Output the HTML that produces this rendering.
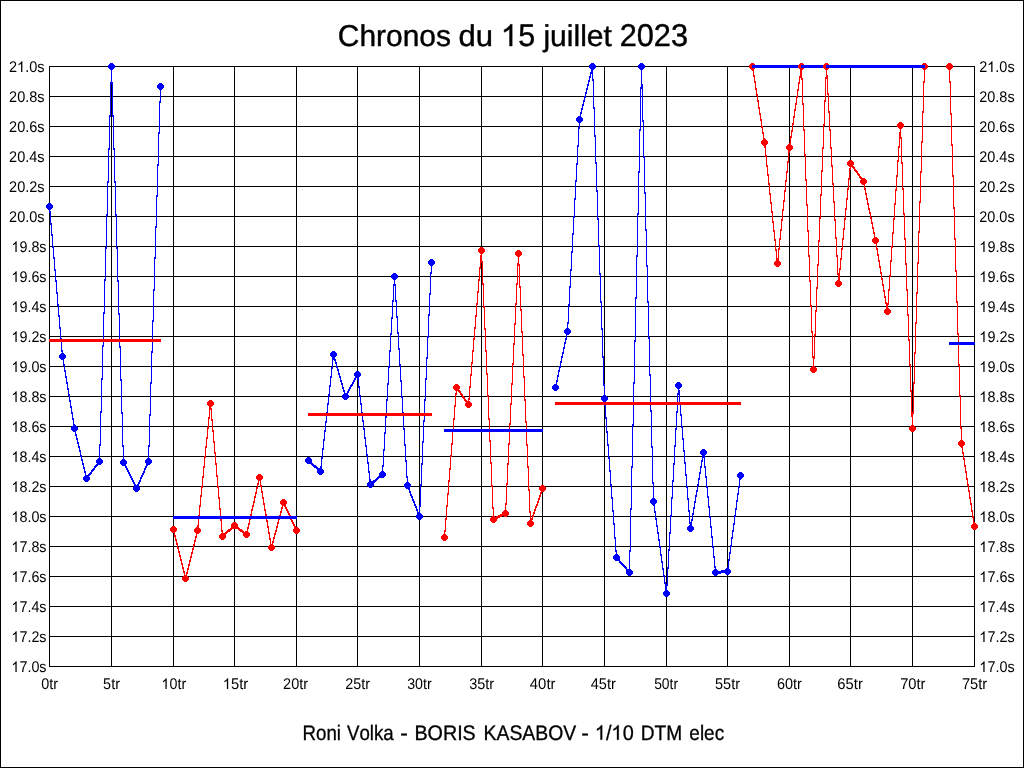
<!DOCTYPE html><html><head><meta charset="utf-8"><style>
html{background:#fff}body{margin:0;padding:0;background:transparent;width:1024px;height:768px;overflow:hidden}
svg{display:block}#w{will-change:transform;width:1024px;height:768px}
text{font-family:"Liberation Sans",sans-serif;fill:#000;text-rendering:geometricPrecision;font-kerning:none}
.l{font-size:15.5px}
</style></head><body>
<div id="w"><svg width="1024" height="768" viewBox="0 0 1024 768" shape-rendering="crispEdges">
<path d="M0 0h1024v1H0zM0 767h1024v1H0zM0 0h1v768H0zM1023 0h1v768h-1zM49 66h1v601h-1zM111 66h1v601h-1zM173 66h1v601h-1zM234 66h1v601h-1zM296 66h1v601h-1zM357 66h1v601h-1zM419 66h1v601h-1zM481 66h1v601h-1zM542 66h1v601h-1zM604 66h1v601h-1zM666 66h1v601h-1zM727 66h1v601h-1zM789 66h1v601h-1zM850 66h1v601h-1zM912 66h1v601h-1zM974 66h1v601h-1zM49 66h926v1H49zM49 96h926v1H49zM49 126h926v1H49zM49 156h926v1H49zM49 186h926v1H49zM49 216h926v1H49zM49 246h926v1H49zM49 276h926v1H49zM49 306h926v1H49zM49 336h926v1H49zM49 366h926v1H49zM49 396h926v1H49zM49 426h926v1H49zM49 456h926v1H49zM49 486h926v1H49zM49 516h926v1H49zM49 546h926v1H49zM49 576h926v1H49zM49 606h926v1H49zM49 636h926v1H49zM49 666h926v1H49z"/>
<path fill="#0000ff" d="M49 205h1v8h-1zM50 211h1v14h-1zM51 223h1v13h-1zM52 234h1v14h-1zM53 246h1v13h-1zM54 257h1v14h-1zM55 269h1v13h-1zM56 280h1v14h-1zM57 292h1v14h-1zM58 304h1v13h-1zM59 315h1v14h-1zM60 327h1v13h-1zM61 338h1v14h-1zM62 350h1v8h-1zM48 203H51V204H52V205H53V208H52V209H51V210H48V209H47V208H46V205H47V204H48Z"/>
<path fill="#ff0000" d="M49 339H63v3H49z"/>
<path fill="#0000ff" d="M62 355h1v5h-1zM63 358h1v8h-1zM64 364h1v8h-1zM65 370h1v8h-1zM66 376h1v8h-1zM67 382h1v8h-1zM68 388h1v8h-1zM69 394h1v8h-1zM70 400h1v8h-1zM71 406h1v8h-1zM72 412h1v8h-1zM73 418h1v8h-1zM74 424h1v6h-1zM61 353H64V354H65V355H66V358H65V359H64V360H61V359H60V358H59V355H60V354H61Z"/>
<path fill="#ff0000" d="M62 339H75v3H62z"/>
<path fill="#0000ff" d="M74 427h1v5h-1zM75 430h1v6h-1zM76 434h1v6h-1zM77 438h1v6h-1zM78 442h1v6h-1zM79 446h1v6h-1zM80 450h1v7h-1zM81 455h1v6h-1zM82 459h1v6h-1zM83 463h1v6h-1zM84 467h1v6h-1zM85 471h1v6h-1zM86 475h1v5h-1zM73 425H76V426H77V427H78V430H77V431H76V432H73V431H72V430H71V427H72V426H73Z"/>
<path fill="#ff0000" d="M74 339H87v3H74z"/>
<path fill="#0000ff" d="M86 477h1v3h-1zM87 476h1v3h-1zM88 474h1v4h-1zM89 473h1v3h-1zM90 472h1v3h-1zM91 470h1v4h-1zM92 469h1v3h-1zM93 468h1v3h-1zM94 466h1v4h-1zM95 465h1v3h-1zM96 464h1v3h-1zM97 462h1v4h-1zM98 461h1v3h-1zM99 460h1v3h-1zM85 475H88V476H89V477H90V480H89V481H88V482H85V481H84V480H83V477H84V476H85Z"/>
<path fill="#ff0000" d="M86 339H100v3H86z"/>
<path fill="#0000ff" d="M99 444h1v19h-1zM100 411h1v35h-1zM101 378h1v35h-1zM102 345h1v35h-1zM103 312h1v35h-1zM104 279h1v35h-1zM105 247h1v34h-1zM106 214h1v35h-1zM107 181h1v35h-1zM108 148h1v35h-1zM109 115h1v35h-1zM110 82h1v35h-1zM111 65h1v19h-1zM98 458H101V459H102V460H103V463H102V464H101V465H98V464H97V463H96V460H97V459H98Z"/>
<path fill="#ff0000" d="M99 339H112v3H99z"/>
<path fill="#0000ff" d="M111 65h1v19h-1zM112 82h1v35h-1zM113 115h1v35h-1zM114 148h1v35h-1zM115 181h1v35h-1zM116 214h1v35h-1zM117 247h1v35h-1zM118 280h1v35h-1zM119 313h1v35h-1zM120 346h1v35h-1zM121 379h1v35h-1zM122 412h1v35h-1zM123 445h1v19h-1zM110 63H113V64H114V65H115V68H114V69H113V70H110V69H109V68H108V65H109V64H110Z"/>
<path fill="#ff0000" d="M111 339H124v3H111z"/>
<path fill="#0000ff" d="M123 461h1v3h-1zM124 462h1v4h-1zM125 464h1v4h-1zM126 466h1v4h-1zM127 468h1v4h-1zM128 470h1v4h-1zM129 472h1v4h-1zM130 474h1v4h-1zM131 476h1v4h-1zM132 478h1v4h-1zM133 480h1v4h-1zM134 482h1v4h-1zM135 484h1v4h-1zM136 486h1v4h-1zM122 459H125V460H126V461H127V464H126V465H125V466H122V465H121V464H120V461H121V460H122Z"/>
<path fill="#ff0000" d="M123 339H137v3H123z"/>
<path fill="#0000ff" d="M136 486h1v4h-1zM137 484h1v4h-1zM138 482h1v4h-1zM139 480h1v4h-1zM140 477h1v5h-1zM141 475h1v4h-1zM142 473h1v4h-1zM143 471h1v4h-1zM144 468h1v5h-1zM145 466h1v4h-1zM146 464h1v4h-1zM147 462h1v4h-1zM148 460h1v4h-1zM135 485H138V486H139V487H140V490H139V491H138V492H135V491H134V490H133V487H134V486H135Z"/>
<path fill="#ff0000" d="M136 339H149v3H136z"/>
<path fill="#0000ff" d="M148 445h1v18h-1zM149 414h1v33h-1zM150 382h1v34h-1zM151 351h1v33h-1zM152 320h1v33h-1zM153 289h1v33h-1zM154 257h1v34h-1zM155 226h1v33h-1zM156 195h1v33h-1zM157 164h1v33h-1zM158 132h1v34h-1zM159 101h1v33h-1zM160 85h1v18h-1zM147 458H150V459H151V460H152V463H151V464H150V465H147V464H146V463H145V460H146V459H147Z"/>
<path fill="#ff0000" d="M148 339H161v3H148z"/>
<path fill="#0000ff" d="M159 83H162V84H163V85H164V88H163V89H162V90H159V89H158V88H157V85H158V84H159Z"/>
<path fill="#ff0000" d="M148 339H161v3H148z"/>
<path fill="#ff0000" d="M173 528h1v5h-1zM174 531h1v6h-1zM175 535h1v6h-1zM176 539h1v6h-1zM177 543h1v6h-1zM178 547h1v6h-1zM179 551h1v6h-1zM180 555h1v6h-1zM181 559h1v6h-1zM182 563h1v6h-1zM183 567h1v6h-1zM184 571h1v6h-1zM185 575h1v5h-1zM172 526H175V527H176V528H177V531H176V532H175V533H172V532H171V531H170V528H171V527H172Z"/>
<path fill="#0000ff" d="M173 516H186v3H173z"/>
<path fill="#ff0000" d="M185 576h1v4h-1zM186 572h1v6h-1zM187 568h1v6h-1zM188 564h1v6h-1zM189 560h1v6h-1zM190 556h1v6h-1zM191 552h1v6h-1zM192 548h1v6h-1zM193 544h1v6h-1zM194 540h1v6h-1zM195 536h1v6h-1zM196 532h1v6h-1zM197 529h1v5h-1zM184 575H187V576H188V577H189V580H188V581H187V582H184V581H183V580H182V577H183V576H184Z"/>
<path fill="#0000ff" d="M185 516H198v3H185z"/>
<path fill="#ff0000" d="M197 525h1v7h-1zM198 515h1v12h-1zM199 505h1v12h-1zM200 495h1v12h-1zM201 486h1v11h-1zM202 476h1v12h-1zM203 466h1v12h-1zM204 456h1v12h-1zM205 446h1v12h-1zM206 437h1v11h-1zM207 427h1v12h-1zM208 417h1v12h-1zM209 407h1v12h-1zM210 402h1v7h-1zM196 527H199V528H200V529H201V532H200V533H199V534H196V533H195V532H194V529H195V528H196Z"/>
<path fill="#0000ff" d="M197 516H211v3H197z"/>
<path fill="#ff0000" d="M210 402h1v8h-1zM211 408h1v13h-1zM212 419h1v13h-1zM213 430h1v13h-1zM214 441h1v13h-1zM215 452h1v13h-1zM216 463h1v14h-1zM217 475h1v13h-1zM218 486h1v13h-1zM219 497h1v13h-1zM220 508h1v13h-1zM221 519h1v13h-1zM222 530h1v8h-1zM209 400H212V401H213V402H214V405H213V406H212V407H209V406H208V405H207V402H208V401H209Z"/>
<path fill="#0000ff" d="M210 516H223v3H210z"/>
<path fill="#ff0000" d="M222 535h1v3h-1zM223 534h1v3h-1zM224 533h1v3h-1zM225 532h1v3h-1zM226 531h1v3h-1zM227 530h1v3h-1zM228 529h1v3h-1zM229 529h1v3h-1zM230 528h1v3h-1zM231 527h1v3h-1zM232 526h1v3h-1zM233 525h1v3h-1zM234 524h1v3h-1zM221 533H224V534H225V535H226V538H225V539H224V540H221V539H220V538H219V535H220V534H221Z"/>
<path fill="#0000ff" d="M222 516H235v3H222z"/>
<path fill="#ff0000" d="M234 524h1v3h-1zM235 525h1v3h-1zM236 526h1v3h-1zM237 526h1v3h-1zM238 527h1v3h-1zM239 528h1v3h-1zM240 529h1v3h-1zM241 529h1v3h-1zM242 530h1v3h-1zM243 531h1v3h-1zM244 532h1v3h-1zM245 532h1v3h-1zM246 533h1v3h-1zM233 522H236V523H237V524H238V527H237V528H236V529H233V528H232V527H231V524H232V523H233Z"/>
<path fill="#0000ff" d="M234 516H247v3H234z"/>
<path fill="#ff0000" d="M246 531h1v5h-1zM247 527h1v6h-1zM248 523h1v6h-1zM249 518h1v7h-1zM250 514h1v6h-1zM251 509h1v7h-1zM252 505h1v6h-1zM253 501h1v6h-1zM254 496h1v7h-1zM255 492h1v6h-1zM256 487h1v7h-1zM257 483h1v6h-1zM258 479h1v6h-1zM259 476h1v5h-1zM245 531H248V532H249V533H250V536H249V537H248V538H245V537H244V536H243V533H244V532H245Z"/>
<path fill="#0000ff" d="M246 516H260v3H246z"/>
<path fill="#ff0000" d="M259 476h1v5h-1zM260 479h1v8h-1zM261 485h1v8h-1zM262 491h1v8h-1zM263 497h1v8h-1zM264 503h1v8h-1zM265 509h1v7h-1zM266 514h1v8h-1zM267 520h1v8h-1zM268 526h1v8h-1zM269 532h1v8h-1zM270 538h1v8h-1zM271 544h1v5h-1zM258 474H261V475H262V476H263V479H262V480H261V481H258V480H257V479H256V476H257V475H258Z"/>
<path fill="#0000ff" d="M259 516H272v3H259z"/>
<path fill="#ff0000" d="M271 545h1v4h-1zM272 541h1v6h-1zM273 537h1v6h-1zM274 533h1v6h-1zM275 530h1v5h-1zM276 526h1v6h-1zM277 522h1v6h-1zM278 518h1v6h-1zM279 515h1v5h-1zM280 511h1v6h-1zM281 507h1v6h-1zM282 503h1v6h-1zM283 501h1v4h-1zM270 544H273V545H274V546H275V549H274V550H273V551H270V550H269V549H268V546H269V545H270Z"/>
<path fill="#0000ff" d="M271 516H284v3H271z"/>
<path fill="#ff0000" d="M283 501h1v4h-1zM284 503h1v4h-1zM285 505h1v4h-1zM286 507h1v4h-1zM287 509h1v4h-1zM288 511h1v4h-1zM289 513h1v4h-1zM290 515h1v5h-1zM291 518h1v4h-1zM292 520h1v4h-1zM293 522h1v4h-1zM294 524h1v4h-1zM295 526h1v4h-1zM296 528h1v4h-1zM282 499H285V500H286V501H287V504H286V505H285V506H282V505H281V504H280V501H281V500H282Z"/>
<path fill="#0000ff" d="M283 516H297v3H283z"/>
<path fill="#ff0000" d="M295 527H298V528H299V529H300V532H299V533H298V534H295V533H294V532H293V529H294V528H295Z"/>
<path fill="#0000ff" d="M283 516H297v3H283z"/>
<path fill="#0000ff" d="M308 459h1v3h-1zM309 460h1v3h-1zM310 461h1v3h-1zM311 462h1v3h-1zM312 463h1v3h-1zM313 464h1v3h-1zM314 465h1v3h-1zM315 465h1v3h-1zM316 466h1v3h-1zM317 467h1v3h-1zM318 468h1v3h-1zM319 469h1v3h-1zM320 470h1v3h-1zM307 457H310V458H311V459H312V462H311V463H310V464H307V463H306V462H305V459H306V458H307Z"/>
<path fill="#ff0000" d="M308 413H321v3H308z"/>
<path fill="#0000ff" d="M320 466h1v7h-1zM321 457h1v11h-1zM322 448h1v11h-1zM323 439h1v11h-1zM324 430h1v11h-1zM325 421h1v11h-1zM326 412h1v11h-1zM327 403h1v11h-1zM328 394h1v11h-1zM329 385h1v11h-1zM330 376h1v11h-1zM331 367h1v11h-1zM332 358h1v11h-1zM333 353h1v7h-1zM319 468H322V469H323V470H324V473H323V474H322V475H319V474H318V473H317V470H318V469H319Z"/>
<path fill="#ff0000" d="M320 413H334v3H320z"/>
<path fill="#0000ff" d="M333 353h1v4h-1zM334 355h1v6h-1zM335 359h1v5h-1zM336 362h1v6h-1zM337 366h1v5h-1zM338 369h1v6h-1zM339 373h1v5h-1zM340 376h1v6h-1zM341 380h1v5h-1zM342 383h1v6h-1zM343 387h1v5h-1zM344 390h1v6h-1zM345 394h1v4h-1zM332 351H335V352H336V353H337V356H336V357H335V358H332V357H331V356H330V353H331V352H332Z"/>
<path fill="#ff0000" d="M333 413H346v3H333z"/>
<path fill="#0000ff" d="M345 395h1v3h-1zM346 393h1v4h-1zM347 391h1v4h-1zM348 389h1v4h-1zM349 387h1v4h-1zM350 385h1v4h-1zM351 384h1v3h-1zM352 382h1v4h-1zM353 380h1v4h-1zM354 378h1v4h-1zM355 376h1v4h-1zM356 374h1v4h-1zM357 373h1v3h-1zM344 393H347V394H348V395H349V398H348V399H347V400H344V399H343V398H342V395H343V394H344Z"/>
<path fill="#ff0000" d="M345 413H358v3H345z"/>
<path fill="#0000ff" d="M357 373h1v7h-1zM358 378h1v10h-1zM359 386h1v11h-1zM360 395h1v10h-1zM361 403h1v11h-1zM362 412h1v10h-1zM363 420h1v10h-1zM364 428h1v11h-1zM365 437h1v10h-1zM366 445h1v11h-1zM367 454h1v10h-1zM368 462h1v11h-1zM369 471h1v10h-1zM370 479h1v7h-1zM356 371H359V372H360V373H361V376H360V377H359V378H356V377H355V376H354V373H355V372H356Z"/>
<path fill="#ff0000" d="M357 413H371v3H357z"/>
<path fill="#0000ff" d="M370 483h1v3h-1zM371 482h1v3h-1zM372 481h1v3h-1zM373 480h1v3h-1zM374 480h1v3h-1zM375 479h1v3h-1zM376 478h1v3h-1zM377 477h1v3h-1zM378 476h1v3h-1zM379 475h1v3h-1zM380 475h1v3h-1zM381 474h1v3h-1zM382 473h1v3h-1zM369 481H372V482H373V483H374V486H373V487H372V488H369V487H368V486H367V483H368V482H369Z"/>
<path fill="#ff0000" d="M370 413H383v3H370z"/>
<path fill="#0000ff" d="M382 465h1v11h-1zM383 449h1v18h-1zM384 432h1v19h-1zM385 416h1v18h-1zM386 399h1v19h-1zM387 383h1v18h-1zM388 366h1v19h-1zM389 350h1v18h-1zM390 333h1v19h-1zM391 317h1v18h-1zM392 300h1v19h-1zM393 284h1v18h-1zM394 275h1v11h-1zM381 471H384V472H385V473H386V476H385V477H384V478H381V477H380V476H379V473H380V472H381Z"/>
<path fill="#ff0000" d="M382 413H395v3H382z"/>
<path fill="#0000ff" d="M394 275h1v11h-1zM395 284h1v18h-1zM396 300h1v18h-1zM397 316h1v18h-1zM398 332h1v18h-1zM399 348h1v18h-1zM400 364h1v18h-1zM401 380h1v18h-1zM402 396h1v18h-1zM403 412h1v18h-1zM404 428h1v18h-1zM405 444h1v18h-1zM406 460h1v18h-1zM407 476h1v11h-1zM393 273H396V274H397V275H398V278H397V279H396V280H393V279H392V278H391V275H392V274H393Z"/>
<path fill="#ff0000" d="M394 413H408v3H394z"/>
<path fill="#0000ff" d="M407 484h1v4h-1zM408 486h1v4h-1zM409 488h1v5h-1zM410 491h1v5h-1zM411 494h1v4h-1zM412 496h1v5h-1zM413 499h1v4h-1zM414 501h1v5h-1zM415 504h1v4h-1zM416 506h1v5h-1zM417 509h1v5h-1zM418 512h1v4h-1zM419 514h1v4h-1zM406 482H409V483H410V484H411V487H410V488H409V489H406V488H405V487H404V484H405V483H406Z"/>
<path fill="#ff0000" d="M407 413H420v3H407z"/>
<path fill="#0000ff" d="M419 505h1v13h-1zM420 484h1v23h-1zM421 463h1v23h-1zM422 441h1v24h-1zM423 420h1v23h-1zM424 399h1v23h-1zM425 378h1v23h-1zM426 357h1v23h-1zM427 336h1v23h-1zM428 314h1v24h-1zM429 293h1v23h-1zM430 272h1v23h-1zM431 261h1v13h-1zM418 513H421V514H422V515H423V518H422V519H421V520H418V519H417V518H416V515H417V514H418Z"/>
<path fill="#ff0000" d="M419 413H432v3H419z"/>
<path fill="#0000ff" d="M430 259H433V260H434V261H435V264H434V265H433V266H430V265H429V264H428V261H429V260H430Z"/>
<path fill="#ff0000" d="M419 413H432v3H419z"/>
<path fill="#ff0000" d="M444 530h1v9h-1zM445 518h1v14h-1zM446 505h1v15h-1zM447 493h1v14h-1zM448 480h1v15h-1zM449 468h1v14h-1zM450 455h1v15h-1zM451 443h1v14h-1zM452 430h1v15h-1zM453 418h1v14h-1zM454 405h1v15h-1zM455 393h1v14h-1zM456 386h1v9h-1zM443 534H446V535H447V536H448V539H447V540H446V541H443V540H442V539H441V536H442V535H443Z"/>
<path fill="#0000ff" d="M444 429H457v3H444z"/>
<path fill="#ff0000" d="M456 386h1v3h-1zM457 387h1v4h-1zM458 389h1v3h-1zM459 390h1v3h-1zM460 391h1v4h-1zM461 393h1v3h-1zM462 394h1v4h-1zM463 396h1v3h-1zM464 397h1v4h-1zM465 399h1v3h-1zM466 400h1v3h-1zM467 401h1v4h-1zM468 403h1v3h-1zM455 384H458V385H459V386H460V389H459V390H458V391H455V390H454V389H453V386H454V385H455Z"/>
<path fill="#0000ff" d="M456 429H469v3H456z"/>
<path fill="#ff0000" d="M468 398h1v8h-1zM469 386h1v14h-1zM470 374h1v14h-1zM471 362h1v14h-1zM472 350h1v14h-1zM473 338h1v14h-1zM474 327h1v13h-1zM475 315h1v14h-1zM476 303h1v14h-1zM477 291h1v14h-1zM478 279h1v14h-1zM479 267h1v14h-1zM480 255h1v14h-1zM481 249h1v8h-1zM467 401H470V402H471V403H472V406H471V407H470V408H467V407H466V406H465V403H466V402H467Z"/>
<path fill="#0000ff" d="M468 429H482v3H468z"/>
<path fill="#ff0000" d="M481 249h1v14h-1zM482 261h1v24h-1zM483 283h1v25h-1zM484 306h1v24h-1zM485 328h1v24h-1zM486 350h1v25h-1zM487 373h1v24h-1zM488 395h1v25h-1zM489 418h1v24h-1zM490 440h1v24h-1zM491 462h1v25h-1zM492 485h1v24h-1zM493 507h1v14h-1zM480 247H483V248H484V249H485V252H484V253H483V254H480V253H479V252H478V249H479V248H480Z"/>
<path fill="#0000ff" d="M481 429H494v3H481z"/>
<path fill="#ff0000" d="M493 518h1v3h-1zM494 517h1v3h-1zM495 517h1v3h-1zM496 516h1v3h-1zM497 516h1v3h-1zM498 515h1v3h-1zM499 515h1v3h-1zM500 514h1v3h-1zM501 514h1v3h-1zM502 513h1v3h-1zM503 513h1v3h-1zM504 512h1v3h-1zM505 512h1v3h-1zM492 516H495V517H496V518H497V521H496V522H495V523H492V522H491V521H490V518H491V517H492Z"/>
<path fill="#0000ff" d="M493 429H506v3H493z"/>
<path fill="#ff0000" d="M505 503h1v12h-1zM506 483h1v22h-1zM507 463h1v22h-1zM508 443h1v22h-1zM509 423h1v22h-1zM510 403h1v22h-1zM511 383h1v22h-1zM512 363h1v22h-1zM513 343h1v22h-1zM514 323h1v22h-1zM515 303h1v22h-1zM516 283h1v22h-1zM517 263h1v22h-1zM518 252h1v13h-1zM504 510H507V511H508V512H509V515H508V516H507V517H504V516H503V515H502V512H503V511H504Z"/>
<path fill="#0000ff" d="M505 429H519v3H505z"/>
<path fill="#ff0000" d="M518 252h1v14h-1zM519 264h1v24h-1zM520 286h1v25h-1zM521 309h1v24h-1zM522 331h1v25h-1zM523 354h1v24h-1zM524 376h1v25h-1zM525 399h1v24h-1zM526 421h1v25h-1zM527 444h1v24h-1zM528 466h1v25h-1zM529 489h1v24h-1zM530 511h1v14h-1zM517 250H520V251H521V252H522V255H521V256H520V257H517V256H516V255H515V252H516V251H517Z"/>
<path fill="#0000ff" d="M518 429H531v3H518z"/>
<path fill="#ff0000" d="M530 521h1v4h-1zM531 518h1v5h-1zM532 515h1v5h-1zM533 512h1v5h-1zM534 509h1v5h-1zM535 506h1v5h-1zM536 504h1v4h-1zM537 501h1v5h-1zM538 498h1v5h-1zM539 495h1v5h-1zM540 492h1v5h-1zM541 489h1v5h-1zM542 487h1v4h-1zM529 520H532V521H533V522H534V525H533V526H532V527H529V526H528V525H527V522H528V521H529Z"/>
<path fill="#0000ff" d="M530 429H543v3H530z"/>
<path fill="#ff0000" d="M541 485H544V486H545V487H546V490H545V491H544V492H541V491H540V490H539V487H540V486H541Z"/>
<path fill="#0000ff" d="M530 429H543v3H530z"/>
<path fill="#0000ff" d="M555 384h1v5h-1zM556 380h1v6h-1zM557 375h1v7h-1zM558 370h1v7h-1zM559 366h1v6h-1zM560 361h1v7h-1zM561 356h1v7h-1zM562 352h1v6h-1zM563 347h1v7h-1zM564 342h1v7h-1zM565 338h1v6h-1zM566 333h1v7h-1zM567 330h1v5h-1zM554 384H557V385H558V386H559V389H558V390H557V391H554V390H553V389H552V386H553V385H554Z"/>
<path fill="#ff0000" d="M555 402H568v3H555z"/>
<path fill="#0000ff" d="M567 322h1v11h-1zM568 304h1v20h-1zM569 286h1v20h-1zM570 269h1v19h-1zM571 251h1v20h-1zM572 233h1v20h-1zM573 216h1v19h-1zM574 198h1v20h-1zM575 180h1v20h-1zM576 163h1v19h-1zM577 145h1v20h-1zM578 127h1v20h-1zM579 118h1v11h-1zM566 328H569V329H570V330H571V333H570V334H569V335H566V334H565V333H564V330H565V329H566Z"/>
<path fill="#ff0000" d="M567 402H580v3H567z"/>
<path fill="#0000ff" d="M579 116h1v5h-1zM580 112h1v6h-1zM581 108h1v6h-1zM582 104h1v6h-1zM583 100h1v6h-1zM584 96h1v6h-1zM585 92h1v6h-1zM586 88h1v6h-1zM587 84h1v6h-1zM588 80h1v6h-1zM589 76h1v6h-1zM590 72h1v6h-1zM591 68h1v6h-1zM592 65h1v5h-1zM578 116H581V117H582V118H583V121H582V122H581V123H578V122H577V121H576V118H577V117H578Z"/>
<path fill="#ff0000" d="M579 402H593v3H579z"/>
<path fill="#0000ff" d="M592 65h1v16h-1zM593 79h1v30h-1zM594 107h1v30h-1zM595 135h1v29h-1zM596 162h1v30h-1zM597 190h1v30h-1zM598 218h1v29h-1zM599 245h1v30h-1zM600 273h1v30h-1zM601 301h1v29h-1zM602 328h1v30h-1zM603 356h1v30h-1zM604 384h1v16h-1zM591 63H594V64H595V65H596V68H595V69H594V70H591V69H590V68H589V65H590V64H591Z"/>
<path fill="#ff0000" d="M592 402H605v3H592z"/>
<path fill="#0000ff" d="M604 397h1v9h-1zM605 404h1v15h-1zM606 417h1v16h-1zM607 431h1v15h-1zM608 444h1v15h-1zM609 457h1v15h-1zM610 470h1v16h-1zM611 484h1v15h-1zM612 497h1v15h-1zM613 510h1v15h-1zM614 523h1v16h-1zM615 537h1v15h-1zM616 550h1v9h-1zM603 395H606V396H607V397H608V400H607V401H606V402H603V401H602V400H601V397H602V396H603Z"/>
<path fill="#ff0000" d="M604 402H617v3H604z"/>
<path fill="#0000ff" d="M616 556h1v3h-1zM617 557h1v3h-1zM618 558h1v3h-1zM619 559h1v4h-1zM620 561h1v3h-1zM621 562h1v3h-1zM622 563h1v3h-1zM623 564h1v3h-1zM624 565h1v3h-1zM625 566h1v3h-1zM626 567h1v4h-1zM627 569h1v3h-1zM628 570h1v3h-1zM629 571h1v3h-1zM615 554H618V555H619V556H620V559H619V560H618V561H615V560H614V559H613V556H614V555H615Z"/>
<path fill="#ff0000" d="M616 402H630v3H616z"/>
<path fill="#0000ff" d="M629 550h1v24h-1zM630 508h1v44h-1zM631 466h1v44h-1zM632 424h1v44h-1zM633 382h1v44h-1zM634 340h1v44h-1zM635 297h1v45h-1zM636 255h1v44h-1zM637 213h1v44h-1zM638 171h1v44h-1zM639 129h1v44h-1zM640 87h1v44h-1zM641 65h1v24h-1zM628 569H631V570H632V571H633V574H632V575H631V576H628V575H627V574H626V571H627V570H628Z"/>
<path fill="#ff0000" d="M629 402H642v3H629z"/>
<path fill="#0000ff" d="M641 65h1v21h-1zM642 84h1v38h-1zM643 120h1v38h-1zM644 156h1v38h-1zM645 192h1v39h-1zM646 229h1v38h-1zM647 265h1v38h-1zM648 301h1v38h-1zM649 337h1v39h-1zM650 374h1v38h-1zM651 410h1v38h-1zM652 446h1v38h-1zM653 482h1v21h-1zM640 63H643V64H644V65H645V68H644V69H643V70H640V69H639V68H638V65H639V64H640Z"/>
<path fill="#ff0000" d="M641 402H654v3H641z"/>
<path fill="#0000ff" d="M653 500h1v6h-1zM654 504h1v9h-1zM655 511h1v9h-1zM656 518h1v9h-1zM657 525h1v9h-1zM658 532h1v9h-1zM659 539h1v9h-1zM660 546h1v10h-1zM661 554h1v9h-1zM662 561h1v9h-1zM663 568h1v9h-1zM664 575h1v9h-1zM665 582h1v9h-1zM666 589h1v6h-1zM652 498H655V499H656V500H657V503H656V504H655V505H652V504H651V503H650V500H651V499H652Z"/>
<path fill="#ff0000" d="M653 402H667v3H653z"/>
<path fill="#0000ff" d="M666 584h1v11h-1zM667 567h1v19h-1zM668 549h1v20h-1zM669 532h1v19h-1zM670 515h1v19h-1zM671 497h1v20h-1zM672 480h1v19h-1zM673 463h1v19h-1zM674 445h1v20h-1zM675 428h1v19h-1zM676 411h1v19h-1zM677 393h1v20h-1zM678 384h1v11h-1zM665 590H668V591H669V592H670V595H669V596H668V597H665V596H664V595H663V592H664V591H665Z"/>
<path fill="#ff0000" d="M666 402H679v3H666z"/>
<path fill="#0000ff" d="M678 384h1v8h-1zM679 390h1v14h-1zM680 402h1v14h-1zM681 414h1v14h-1zM682 426h1v14h-1zM683 438h1v14h-1zM684 450h1v14h-1zM685 462h1v14h-1zM686 474h1v14h-1zM687 486h1v14h-1zM688 498h1v14h-1zM689 510h1v14h-1zM690 522h1v8h-1zM677 382H680V383H681V384H682V387H681V388H680V389H677V388H676V387H675V384H676V383H677Z"/>
<path fill="#ff0000" d="M678 402H691v3H678z"/>
<path fill="#0000ff" d="M690 525h1v5h-1zM691 519h1v8h-1zM692 513h1v8h-1zM693 507h1v8h-1zM694 501h1v8h-1zM695 495h1v8h-1zM696 490h1v7h-1zM697 484h1v8h-1zM698 478h1v8h-1zM699 472h1v8h-1zM700 466h1v8h-1zM701 460h1v8h-1zM702 454h1v8h-1zM703 451h1v5h-1zM689 525H692V526H693V527H694V530H693V531H692V532H689V531H688V530H687V527H688V526H689Z"/>
<path fill="#ff0000" d="M690 402H704v3H690z"/>
<path fill="#0000ff" d="M703 451h1v7h-1zM704 456h1v12h-1zM705 466h1v12h-1zM706 476h1v12h-1zM707 486h1v12h-1zM708 496h1v12h-1zM709 506h1v12h-1zM710 516h1v12h-1zM711 526h1v12h-1zM712 536h1v12h-1zM713 546h1v12h-1zM714 556h1v12h-1zM715 566h1v8h-1zM702 449H705V450H706V451H707V454H706V455H705V456H702V455H701V454H700V451H701V450H702Z"/>
<path fill="#ff0000" d="M703 402H716v3H703z"/>
<path fill="#0000ff" d="M715 571h1v3h-1zM716 571h1v3h-1zM717 571h1v3h-1zM718 571h1v3h-1zM719 571h1v3h-1zM720 571h1v3h-1zM721 570h1v3h-1zM722 570h1v3h-1zM723 570h1v3h-1zM724 570h1v3h-1zM725 570h1v3h-1zM726 570h1v3h-1zM727 570h1v3h-1zM714 569H717V570H718V571H719V574H718V575H717V576H714V575H713V574H712V571H713V570H714Z"/>
<path fill="#ff0000" d="M715 402H728v3H715z"/>
<path fill="#0000ff" d="M727 567h1v6h-1zM728 559h1v10h-1zM729 552h1v9h-1zM730 545h1v9h-1zM731 537h1v10h-1zM732 530h1v9h-1zM733 523h1v9h-1zM734 515h1v10h-1zM735 508h1v9h-1zM736 500h1v10h-1zM737 493h1v9h-1zM738 486h1v9h-1zM739 478h1v10h-1zM740 474h1v6h-1zM726 568H729V569H730V570H731V573H730V574H729V575H726V574H725V573H724V570H725V569H726Z"/>
<path fill="#ff0000" d="M727 402H741v3H727z"/>
<path fill="#0000ff" d="M739 472H742V473H743V474H744V477H743V478H742V479H739V478H738V477H737V474H738V473H739Z"/>
<path fill="#ff0000" d="M727 402H741v3H727z"/>
<path fill="#ff0000" d="M752 65h1v6h-1zM753 69h1v8h-1zM754 75h1v8h-1zM755 81h1v9h-1zM756 88h1v8h-1zM757 94h1v8h-1zM758 100h1v9h-1zM759 107h1v8h-1zM760 113h1v8h-1zM761 119h1v9h-1zM762 126h1v8h-1zM763 132h1v8h-1zM764 138h1v6h-1zM751 63H754V64H755V65H756V68H755V69H754V70H751V69H750V68H749V65H750V64H751Z"/>
<path fill="#0000ff" d="M752 65H765v3H752z"/>
<path fill="#ff0000" d="M764 141h1v7h-1zM765 146h1v11h-1zM766 155h1v12h-1zM767 165h1v11h-1zM768 174h1v11h-1zM769 183h1v12h-1zM770 193h1v11h-1zM771 202h1v11h-1zM772 211h1v12h-1zM773 221h1v11h-1zM774 230h1v11h-1zM775 239h1v12h-1zM776 249h1v11h-1zM777 258h1v7h-1zM763 139H766V140H767V141H768V144H767V145H766V146H763V145H762V144H761V141H762V140H763Z"/>
<path fill="#0000ff" d="M764 65H778v3H764z"/>
<path fill="#ff0000" d="M777 258h1v7h-1zM778 248h1v12h-1zM779 238h1v12h-1zM780 229h1v11h-1zM781 219h1v12h-1zM782 209h1v12h-1zM783 200h1v11h-1zM784 190h1v12h-1zM785 180h1v12h-1zM786 171h1v11h-1zM787 161h1v12h-1zM788 151h1v12h-1zM789 146h1v7h-1zM776 260H779V261H780V262H781V265H780V266H779V267H776V266H775V265H774V262H775V261H776Z"/>
<path fill="#0000ff" d="M777 65H790v3H777z"/>
<path fill="#ff0000" d="M789 143h1v6h-1zM790 136h1v9h-1zM791 130h1v8h-1zM792 123h1v9h-1zM793 116h1v9h-1zM794 109h1v9h-1zM795 103h1v8h-1zM796 96h1v9h-1zM797 89h1v9h-1zM798 82h1v9h-1zM799 76h1v8h-1zM800 69h1v9h-1zM801 65h1v6h-1zM788 144H791V145H792V146H793V149H792V150H791V151H788V150H787V149H786V146H787V145H788Z"/>
<path fill="#0000ff" d="M789 65H802v3H789z"/>
<path fill="#ff0000" d="M801 65h1v15h-1zM802 78h1v27h-1zM803 103h1v28h-1zM804 129h1v27h-1zM805 154h1v27h-1zM806 179h1v27h-1zM807 204h1v28h-1zM808 230h1v27h-1zM809 255h1v27h-1zM810 280h1v27h-1zM811 305h1v28h-1zM812 331h1v27h-1zM813 356h1v15h-1zM800 63H803V64H804V65H805V68H804V69H803V70H800V69H799V68H798V65H799V64H800Z"/>
<path fill="#0000ff" d="M801 65H814v3H801z"/>
<path fill="#ff0000" d="M813 357h1v14h-1zM814 334h1v25h-1zM815 310h1v26h-1zM816 287h1v25h-1zM817 264h1v25h-1zM818 240h1v26h-1zM819 217h1v25h-1zM820 194h1v25h-1zM821 170h1v26h-1zM822 147h1v25h-1zM823 124h1v25h-1zM824 100h1v26h-1zM825 77h1v25h-1zM826 65h1v14h-1zM812 366H815V367H816V368H817V371H816V372H815V373H812V372H811V371H810V368H811V367H812Z"/>
<path fill="#0000ff" d="M813 65H827v3H813z"/>
<path fill="#ff0000" d="M826 65h1v12h-1zM827 75h1v20h-1zM828 93h1v20h-1zM829 111h1v20h-1zM830 129h1v20h-1zM831 147h1v20h-1zM832 165h1v20h-1zM833 183h1v20h-1zM834 201h1v20h-1zM835 219h1v20h-1zM836 237h1v20h-1zM837 255h1v20h-1zM838 273h1v12h-1zM825 63H828V64H829V65H830V68H829V69H828V70H825V69H824V68H823V65H824V64H825Z"/>
<path fill="#0000ff" d="M826 65H839v3H826z"/>
<path fill="#ff0000" d="M838 278h1v7h-1zM839 268h1v12h-1zM840 258h1v12h-1zM841 248h1v12h-1zM842 238h1v12h-1zM843 228h1v12h-1zM844 218h1v12h-1zM845 208h1v12h-1zM846 198h1v12h-1zM847 188h1v12h-1zM848 178h1v12h-1zM849 168h1v12h-1zM850 162h1v8h-1zM837 280H840V281H841V282H842V285H841V286H840V287H837V286H836V285H835V282H836V281H837Z"/>
<path fill="#0000ff" d="M838 65H851v3H838z"/>
<path fill="#ff0000" d="M850 162h1v3h-1zM851 163h1v4h-1zM852 165h1v3h-1zM853 166h1v3h-1zM854 167h1v4h-1zM855 169h1v3h-1zM856 170h1v3h-1zM857 171h1v4h-1zM858 173h1v3h-1zM859 174h1v4h-1zM860 176h1v3h-1zM861 177h1v3h-1zM862 178h1v4h-1zM863 180h1v3h-1zM849 160H852V161H853V162H854V165H853V166H852V167H849V166H848V165H847V162H848V161H849Z"/>
<path fill="#0000ff" d="M850 65H864v3H850z"/>
<path fill="#ff0000" d="M863 180h1v5h-1zM864 183h1v7h-1zM865 188h1v7h-1zM866 193h1v7h-1zM867 198h1v7h-1zM868 203h1v7h-1zM869 208h1v6h-1zM870 212h1v7h-1zM871 217h1v7h-1zM872 222h1v7h-1zM873 227h1v7h-1zM874 232h1v7h-1zM875 237h1v5h-1zM862 178H865V179H866V180H867V183H866V184H865V185H862V184H861V183H860V180H861V179H862Z"/>
<path fill="#0000ff" d="M863 65H876v3H863z"/>
<path fill="#ff0000" d="M875 239h1v5h-1zM876 242h1v8h-1zM877 248h1v8h-1zM878 254h1v8h-1zM879 260h1v8h-1zM880 266h1v8h-1zM881 272h1v8h-1zM882 278h1v8h-1zM883 284h1v8h-1zM884 290h1v8h-1zM885 296h1v8h-1zM886 302h1v8h-1zM887 308h1v5h-1zM874 237H877V238H878V239H879V242H878V243H877V244H874V243H873V242H872V239H873V238H874Z"/>
<path fill="#0000ff" d="M875 65H888v3H875z"/>
<path fill="#ff0000" d="M887 303h1v10h-1zM888 289h1v16h-1zM889 275h1v16h-1zM890 260h1v17h-1zM891 246h1v16h-1zM892 232h1v16h-1zM893 218h1v16h-1zM894 203h1v17h-1zM895 189h1v16h-1zM896 175h1v16h-1zM897 160h1v17h-1zM898 146h1v16h-1zM899 132h1v16h-1zM900 124h1v10h-1zM886 308H889V309H890V310H891V313H890V314H889V315H886V314H885V313H884V310H885V309H886Z"/>
<path fill="#0000ff" d="M887 65H901v3H887z"/>
<path fill="#ff0000" d="M900 124h1v15h-1zM901 137h1v27h-1zM902 162h1v28h-1zM903 188h1v27h-1zM904 213h1v27h-1zM905 238h1v27h-1zM906 263h1v28h-1zM907 289h1v27h-1zM908 314h1v27h-1zM909 339h1v27h-1zM910 364h1v28h-1zM911 390h1v27h-1zM912 415h1v15h-1zM899 122H902V123H903V124H904V127H903V128H902V129H899V128H898V127H897V124H898V123H899Z"/>
<path fill="#0000ff" d="M900 65H913v3H900z"/>
<path fill="#ff0000" d="M912 412h1v18h-1zM913 382h1v32h-1zM914 352h1v32h-1zM915 322h1v32h-1zM916 292h1v32h-1zM917 262h1v32h-1zM918 231h1v33h-1zM919 201h1v32h-1zM920 171h1v32h-1zM921 141h1v32h-1zM922 111h1v32h-1zM923 81h1v32h-1zM924 65h1v18h-1zM911 425H914V426H915V427H916V430H915V431H914V432H911V431H910V430H909V427H910V426H911Z"/>
<path fill="#0000ff" d="M912 65H925v3H912z"/>
<path fill="#ff0000" d="M923 63H926V64H927V65H928V68H927V69H926V70H923V69H922V68H921V65H922V64H923Z"/>
<path fill="#0000ff" d="M912 65H925v3H912z"/>
<path fill="#ff0000" d="M949 65h1v18h-1zM950 81h1v34h-1zM951 113h1v33h-1zM952 144h1v33h-1zM953 175h1v34h-1zM954 207h1v33h-1zM955 238h1v34h-1zM956 270h1v33h-1zM957 301h1v34h-1zM958 333h1v33h-1zM959 364h1v33h-1zM960 395h1v34h-1zM961 427h1v18h-1zM948 63H951V64H952V65H953V68H952V69H951V70H948V69H947V68H946V65H947V64H948Z"/>
<path fill="#0000ff" d="M949 342H962v3H949z"/>
<path fill="#ff0000" d="M961 442h1v6h-1zM962 446h1v8h-1zM963 452h1v8h-1zM964 458h1v9h-1zM965 465h1v8h-1zM966 471h1v9h-1zM967 478h1v8h-1zM968 484h1v8h-1zM969 490h1v9h-1zM970 497h1v8h-1zM971 503h1v9h-1zM972 510h1v8h-1zM973 516h1v8h-1zM974 522h1v6h-1zM960 440H963V441H964V442H965V445H964V446H963V447H960V446H959V445H958V442H959V441H960Z"/>
<path fill="#0000ff" d="M961 342H975v3H961z"/>
<path fill="#ff0000" d="M973 523H976V524H977V525H978V528H977V529H976V530H973V529H972V528H971V525H972V524H973Z"/>
<path fill="#0000ff" d="M961 342H975v3H961z"/>
<text transform="translate(9.069,72) scale(0.9377,1.0)" style="font-size:15.5px" >2 .0s</text>
<path shape-rendering="geometricPrecision" vector-effect="non-scaling-stroke"  transform="translate(9.069,72) scale(0.9377,1.0) translate(8.609,0.000) scale(0.007568,-0.007568)" d="M735 0L555 0L555 1100C512 1060 455 1020 385 980C314 940 251 910 195 890L195 1060C296 1105 384 1160 459 1225C534 1290 587 1350 618 1409L735 1409Z"/>
<text transform="translate(979.273,72) scale(0.9323,1.0)" style="font-size:15.5px" >2 .0s</text>
<path shape-rendering="geometricPrecision" vector-effect="non-scaling-stroke"  transform="translate(979.273,72) scale(0.9323,1.0) translate(8.609,0.000) scale(0.007568,-0.007568)" d="M735 0L555 0L555 1100C512 1060 455 1020 385 980C314 940 251 910 195 890L195 1060C296 1105 384 1160 459 1225C534 1290 587 1350 618 1409L735 1409Z"/>
<text transform="translate(9.069,102) scale(0.9377,1.0)" style="font-size:15.5px" >20.8s</text>
<text transform="translate(979.273,102) scale(0.9323,1.0)" style="font-size:15.5px" >20.8s</text>
<text transform="translate(9.069,132) scale(0.9377,1.0)" style="font-size:15.5px" >20.6s</text>
<text transform="translate(979.273,132) scale(0.9323,1.0)" style="font-size:15.5px" >20.6s</text>
<text transform="translate(9.069,162) scale(0.9377,1.0)" style="font-size:15.5px" >20.4s</text>
<text transform="translate(979.273,162) scale(0.9323,1.0)" style="font-size:15.5px" >20.4s</text>
<text transform="translate(9.069,192) scale(0.9377,1.0)" style="font-size:15.5px" >20.2s</text>
<text transform="translate(979.273,192) scale(0.9323,1.0)" style="font-size:15.5px" >20.2s</text>
<text transform="translate(9.069,222) scale(0.9377,1.0)" style="font-size:15.5px" >20.0s</text>
<text transform="translate(979.273,222) scale(0.9323,1.0)" style="font-size:15.5px" >20.0s</text>
<text transform="translate(11.539,252) scale(0.9225,1.0)" style="font-size:15.5px" > 9.8s</text>
<path shape-rendering="geometricPrecision" vector-effect="non-scaling-stroke"  transform="translate(11.539,252) scale(0.9225,1.0) translate(0.000,0.000) scale(0.007568,-0.007568)" d="M735 0L555 0L555 1100C512 1060 455 1020 385 980C314 940 251 910 195 890L195 1060C296 1105 384 1160 459 1225C534 1290 587 1350 618 1409L735 1409Z"/>
<text transform="translate(979.430,252) scale(0.9281,1.0)" style="font-size:15.5px" > 9.8s</text>
<path shape-rendering="geometricPrecision" vector-effect="non-scaling-stroke"  transform="translate(979.430,252) scale(0.9281,1.0) translate(0.000,0.000) scale(0.007568,-0.007568)" d="M735 0L555 0L555 1100C512 1060 455 1020 385 980C314 940 251 910 195 890L195 1060C296 1105 384 1160 459 1225C534 1290 587 1350 618 1409L735 1409Z"/>
<text transform="translate(11.539,282) scale(0.9225,1.0)" style="font-size:15.5px" > 9.6s</text>
<path shape-rendering="geometricPrecision" vector-effect="non-scaling-stroke"  transform="translate(11.539,282) scale(0.9225,1.0) translate(0.000,0.000) scale(0.007568,-0.007568)" d="M735 0L555 0L555 1100C512 1060 455 1020 385 980C314 940 251 910 195 890L195 1060C296 1105 384 1160 459 1225C534 1290 587 1350 618 1409L735 1409Z"/>
<text transform="translate(979.430,282) scale(0.9281,1.0)" style="font-size:15.5px" > 9.6s</text>
<path shape-rendering="geometricPrecision" vector-effect="non-scaling-stroke"  transform="translate(979.430,282) scale(0.9281,1.0) translate(0.000,0.000) scale(0.007568,-0.007568)" d="M735 0L555 0L555 1100C512 1060 455 1020 385 980C314 940 251 910 195 890L195 1060C296 1105 384 1160 459 1225C534 1290 587 1350 618 1409L735 1409Z"/>
<text transform="translate(11.539,312) scale(0.9225,1.0)" style="font-size:15.5px" > 9.4s</text>
<path shape-rendering="geometricPrecision" vector-effect="non-scaling-stroke"  transform="translate(11.539,312) scale(0.9225,1.0) translate(0.000,0.000) scale(0.007568,-0.007568)" d="M735 0L555 0L555 1100C512 1060 455 1020 385 980C314 940 251 910 195 890L195 1060C296 1105 384 1160 459 1225C534 1290 587 1350 618 1409L735 1409Z"/>
<text transform="translate(979.430,312) scale(0.9281,1.0)" style="font-size:15.5px" > 9.4s</text>
<path shape-rendering="geometricPrecision" vector-effect="non-scaling-stroke"  transform="translate(979.430,312) scale(0.9281,1.0) translate(0.000,0.000) scale(0.007568,-0.007568)" d="M735 0L555 0L555 1100C512 1060 455 1020 385 980C314 940 251 910 195 890L195 1060C296 1105 384 1160 459 1225C534 1290 587 1350 618 1409L735 1409Z"/>
<text transform="translate(11.539,342) scale(0.9225,1.0)" style="font-size:15.5px" > 9.2s</text>
<path shape-rendering="geometricPrecision" vector-effect="non-scaling-stroke"  transform="translate(11.539,342) scale(0.9225,1.0) translate(0.000,0.000) scale(0.007568,-0.007568)" d="M735 0L555 0L555 1100C512 1060 455 1020 385 980C314 940 251 910 195 890L195 1060C296 1105 384 1160 459 1225C534 1290 587 1350 618 1409L735 1409Z"/>
<text transform="translate(979.430,342) scale(0.9281,1.0)" style="font-size:15.5px" > 9.2s</text>
<path shape-rendering="geometricPrecision" vector-effect="non-scaling-stroke"  transform="translate(979.430,342) scale(0.9281,1.0) translate(0.000,0.000) scale(0.007568,-0.007568)" d="M735 0L555 0L555 1100C512 1060 455 1020 385 980C314 940 251 910 195 890L195 1060C296 1105 384 1160 459 1225C534 1290 587 1350 618 1409L735 1409Z"/>
<text transform="translate(11.539,372) scale(0.9225,1.0)" style="font-size:15.5px" > 9.0s</text>
<path shape-rendering="geometricPrecision" vector-effect="non-scaling-stroke"  transform="translate(11.539,372) scale(0.9225,1.0) translate(0.000,0.000) scale(0.007568,-0.007568)" d="M735 0L555 0L555 1100C512 1060 455 1020 385 980C314 940 251 910 195 890L195 1060C296 1105 384 1160 459 1225C534 1290 587 1350 618 1409L735 1409Z"/>
<text transform="translate(979.430,372) scale(0.9281,1.0)" style="font-size:15.5px" > 9.0s</text>
<path shape-rendering="geometricPrecision" vector-effect="non-scaling-stroke"  transform="translate(979.430,372) scale(0.9281,1.0) translate(0.000,0.000) scale(0.007568,-0.007568)" d="M735 0L555 0L555 1100C512 1060 455 1020 385 980C314 940 251 910 195 890L195 1060C296 1105 384 1160 459 1225C534 1290 587 1350 618 1409L735 1409Z"/>
<text transform="translate(11.539,402) scale(0.9225,1.0)" style="font-size:15.5px" > 8.8s</text>
<path shape-rendering="geometricPrecision" vector-effect="non-scaling-stroke"  transform="translate(11.539,402) scale(0.9225,1.0) translate(0.000,0.000) scale(0.007568,-0.007568)" d="M735 0L555 0L555 1100C512 1060 455 1020 385 980C314 940 251 910 195 890L195 1060C296 1105 384 1160 459 1225C534 1290 587 1350 618 1409L735 1409Z"/>
<text transform="translate(979.430,402) scale(0.9281,1.0)" style="font-size:15.5px" > 8.8s</text>
<path shape-rendering="geometricPrecision" vector-effect="non-scaling-stroke"  transform="translate(979.430,402) scale(0.9281,1.0) translate(0.000,0.000) scale(0.007568,-0.007568)" d="M735 0L555 0L555 1100C512 1060 455 1020 385 980C314 940 251 910 195 890L195 1060C296 1105 384 1160 459 1225C534 1290 587 1350 618 1409L735 1409Z"/>
<text transform="translate(11.539,432) scale(0.9225,1.0)" style="font-size:15.5px" > 8.6s</text>
<path shape-rendering="geometricPrecision" vector-effect="non-scaling-stroke"  transform="translate(11.539,432) scale(0.9225,1.0) translate(0.000,0.000) scale(0.007568,-0.007568)" d="M735 0L555 0L555 1100C512 1060 455 1020 385 980C314 940 251 910 195 890L195 1060C296 1105 384 1160 459 1225C534 1290 587 1350 618 1409L735 1409Z"/>
<text transform="translate(979.430,432) scale(0.9281,1.0)" style="font-size:15.5px" > 8.6s</text>
<path shape-rendering="geometricPrecision" vector-effect="non-scaling-stroke"  transform="translate(979.430,432) scale(0.9281,1.0) translate(0.000,0.000) scale(0.007568,-0.007568)" d="M735 0L555 0L555 1100C512 1060 455 1020 385 980C314 940 251 910 195 890L195 1060C296 1105 384 1160 459 1225C534 1290 587 1350 618 1409L735 1409Z"/>
<text transform="translate(11.539,462) scale(0.9225,1.0)" style="font-size:15.5px" > 8.4s</text>
<path shape-rendering="geometricPrecision" vector-effect="non-scaling-stroke"  transform="translate(11.539,462) scale(0.9225,1.0) translate(0.000,0.000) scale(0.007568,-0.007568)" d="M735 0L555 0L555 1100C512 1060 455 1020 385 980C314 940 251 910 195 890L195 1060C296 1105 384 1160 459 1225C534 1290 587 1350 618 1409L735 1409Z"/>
<text transform="translate(979.430,462) scale(0.9281,1.0)" style="font-size:15.5px" > 8.4s</text>
<path shape-rendering="geometricPrecision" vector-effect="non-scaling-stroke"  transform="translate(979.430,462) scale(0.9281,1.0) translate(0.000,0.000) scale(0.007568,-0.007568)" d="M735 0L555 0L555 1100C512 1060 455 1020 385 980C314 940 251 910 195 890L195 1060C296 1105 384 1160 459 1225C534 1290 587 1350 618 1409L735 1409Z"/>
<text transform="translate(11.539,492) scale(0.9225,1.0)" style="font-size:15.5px" > 8.2s</text>
<path shape-rendering="geometricPrecision" vector-effect="non-scaling-stroke"  transform="translate(11.539,492) scale(0.9225,1.0) translate(0.000,0.000) scale(0.007568,-0.007568)" d="M735 0L555 0L555 1100C512 1060 455 1020 385 980C314 940 251 910 195 890L195 1060C296 1105 384 1160 459 1225C534 1290 587 1350 618 1409L735 1409Z"/>
<text transform="translate(979.430,492) scale(0.9281,1.0)" style="font-size:15.5px" > 8.2s</text>
<path shape-rendering="geometricPrecision" vector-effect="non-scaling-stroke"  transform="translate(979.430,492) scale(0.9281,1.0) translate(0.000,0.000) scale(0.007568,-0.007568)" d="M735 0L555 0L555 1100C512 1060 455 1020 385 980C314 940 251 910 195 890L195 1060C296 1105 384 1160 459 1225C534 1290 587 1350 618 1409L735 1409Z"/>
<text transform="translate(11.539,522) scale(0.9225,1.0)" style="font-size:15.5px" > 8.0s</text>
<path shape-rendering="geometricPrecision" vector-effect="non-scaling-stroke"  transform="translate(11.539,522) scale(0.9225,1.0) translate(0.000,0.000) scale(0.007568,-0.007568)" d="M735 0L555 0L555 1100C512 1060 455 1020 385 980C314 940 251 910 195 890L195 1060C296 1105 384 1160 459 1225C534 1290 587 1350 618 1409L735 1409Z"/>
<text transform="translate(979.430,522) scale(0.9281,1.0)" style="font-size:15.5px" > 8.0s</text>
<path shape-rendering="geometricPrecision" vector-effect="non-scaling-stroke"  transform="translate(979.430,522) scale(0.9281,1.0) translate(0.000,0.000) scale(0.007568,-0.007568)" d="M735 0L555 0L555 1100C512 1060 455 1020 385 980C314 940 251 910 195 890L195 1060C296 1105 384 1160 459 1225C534 1290 587 1350 618 1409L735 1409Z"/>
<text transform="translate(11.539,552) scale(0.9225,1.0)" style="font-size:15.5px" > 7.8s</text>
<path shape-rendering="geometricPrecision" vector-effect="non-scaling-stroke"  transform="translate(11.539,552) scale(0.9225,1.0) translate(0.000,0.000) scale(0.007568,-0.007568)" d="M735 0L555 0L555 1100C512 1060 455 1020 385 980C314 940 251 910 195 890L195 1060C296 1105 384 1160 459 1225C534 1290 587 1350 618 1409L735 1409Z"/>
<text transform="translate(979.430,552) scale(0.9281,1.0)" style="font-size:15.5px" > 7.8s</text>
<path shape-rendering="geometricPrecision" vector-effect="non-scaling-stroke"  transform="translate(979.430,552) scale(0.9281,1.0) translate(0.000,0.000) scale(0.007568,-0.007568)" d="M735 0L555 0L555 1100C512 1060 455 1020 385 980C314 940 251 910 195 890L195 1060C296 1105 384 1160 459 1225C534 1290 587 1350 618 1409L735 1409Z"/>
<text transform="translate(11.539,582) scale(0.9225,1.0)" style="font-size:15.5px" > 7.6s</text>
<path shape-rendering="geometricPrecision" vector-effect="non-scaling-stroke"  transform="translate(11.539,582) scale(0.9225,1.0) translate(0.000,0.000) scale(0.007568,-0.007568)" d="M735 0L555 0L555 1100C512 1060 455 1020 385 980C314 940 251 910 195 890L195 1060C296 1105 384 1160 459 1225C534 1290 587 1350 618 1409L735 1409Z"/>
<text transform="translate(979.430,582) scale(0.9281,1.0)" style="font-size:15.5px" > 7.6s</text>
<path shape-rendering="geometricPrecision" vector-effect="non-scaling-stroke"  transform="translate(979.430,582) scale(0.9281,1.0) translate(0.000,0.000) scale(0.007568,-0.007568)" d="M735 0L555 0L555 1100C512 1060 455 1020 385 980C314 940 251 910 195 890L195 1060C296 1105 384 1160 459 1225C534 1290 587 1350 618 1409L735 1409Z"/>
<text transform="translate(11.539,612) scale(0.9225,1.0)" style="font-size:15.5px" > 7.4s</text>
<path shape-rendering="geometricPrecision" vector-effect="non-scaling-stroke"  transform="translate(11.539,612) scale(0.9225,1.0) translate(0.000,0.000) scale(0.007568,-0.007568)" d="M735 0L555 0L555 1100C512 1060 455 1020 385 980C314 940 251 910 195 890L195 1060C296 1105 384 1160 459 1225C534 1290 587 1350 618 1409L735 1409Z"/>
<text transform="translate(979.430,612) scale(0.9281,1.0)" style="font-size:15.5px" > 7.4s</text>
<path shape-rendering="geometricPrecision" vector-effect="non-scaling-stroke"  transform="translate(979.430,612) scale(0.9281,1.0) translate(0.000,0.000) scale(0.007568,-0.007568)" d="M735 0L555 0L555 1100C512 1060 455 1020 385 980C314 940 251 910 195 890L195 1060C296 1105 384 1160 459 1225C534 1290 587 1350 618 1409L735 1409Z"/>
<text transform="translate(11.539,642) scale(0.9225,1.0)" style="font-size:15.5px" > 7.2s</text>
<path shape-rendering="geometricPrecision" vector-effect="non-scaling-stroke"  transform="translate(11.539,642) scale(0.9225,1.0) translate(0.000,0.000) scale(0.007568,-0.007568)" d="M735 0L555 0L555 1100C512 1060 455 1020 385 980C314 940 251 910 195 890L195 1060C296 1105 384 1160 459 1225C534 1290 587 1350 618 1409L735 1409Z"/>
<text transform="translate(979.430,642) scale(0.9281,1.0)" style="font-size:15.5px" > 7.2s</text>
<path shape-rendering="geometricPrecision" vector-effect="non-scaling-stroke"  transform="translate(979.430,642) scale(0.9281,1.0) translate(0.000,0.000) scale(0.007568,-0.007568)" d="M735 0L555 0L555 1100C512 1060 455 1020 385 980C314 940 251 910 195 890L195 1060C296 1105 384 1160 459 1225C534 1290 587 1350 618 1409L735 1409Z"/>
<text transform="translate(11.539,672) scale(0.9225,1.0)" style="font-size:15.5px" > 7.0s</text>
<path shape-rendering="geometricPrecision" vector-effect="non-scaling-stroke"  transform="translate(11.539,672) scale(0.9225,1.0) translate(0.000,0.000) scale(0.007568,-0.007568)" d="M735 0L555 0L555 1100C512 1060 455 1020 385 980C314 940 251 910 195 890L195 1060C296 1105 384 1160 459 1225C534 1290 587 1350 618 1409L735 1409Z"/>
<text transform="translate(979.430,672) scale(0.9281,1.0)" style="font-size:15.5px" > 7.0s</text>
<path shape-rendering="geometricPrecision" vector-effect="non-scaling-stroke"  transform="translate(979.430,672) scale(0.9281,1.0) translate(0.000,0.000) scale(0.007568,-0.007568)" d="M735 0L555 0L555 1100C512 1060 455 1020 385 980C314 940 251 910 195 890L195 1060C296 1105 384 1160 459 1225C534 1290 587 1350 618 1409L735 1409Z"/>
<text transform="translate(41.238,689) scale(0.9289,1.0)" style="font-size:15.5px" >0tr</text>
<text transform="translate(103.123,689) scale(0.9297,1.0)" style="font-size:15.5px" >5tr</text>
<text transform="translate(161.594,689) scale(0.9189,1.0)" style="font-size:15.5px" > 0tr</text>
<path shape-rendering="geometricPrecision" vector-effect="non-scaling-stroke"  transform="translate(161.594,689) scale(0.9189,1.0) translate(0.000,0.000) scale(0.007568,-0.007568)" d="M735 0L555 0L555 1100C512 1060 455 1020 385 980C314 940 251 910 195 890L195 1060C296 1105 384 1160 459 1225C534 1290 587 1350 618 1409L735 1409Z"/>
<text transform="translate(222.900,689) scale(0.9489,1.0)" style="font-size:15.5px" > 5tr</text>
<path shape-rendering="geometricPrecision" vector-effect="non-scaling-stroke"  transform="translate(222.900,689) scale(0.9489,1.0) translate(0.000,0.000) scale(0.007568,-0.007568)" d="M735 0L555 0L555 1100C512 1060 455 1020 385 980C314 940 251 910 195 890L195 1060C296 1105 384 1160 459 1225C534 1290 587 1350 618 1409L735 1409Z"/>
<text transform="translate(283.071,689) scale(0.9349,1.0)" style="font-size:15.5px" >20tr</text>
<text transform="translate(345.177,689) scale(0.9271,1.0)" style="font-size:15.5px" >25tr</text>
<text transform="translate(407.159,689) scale(0.9164,1.0)" style="font-size:15.5px" >30tr</text>
<text transform="translate(469.148,689) scale(0.9358,1.0)" style="font-size:15.5px" >35tr</text>
<text transform="translate(529.859,689) scale(0.9580,1.0)" style="font-size:15.5px" >40tr</text>
<text transform="translate(590.766,689) scale(0.9389,1.0)" style="font-size:15.5px" >45tr</text>
<text transform="translate(654.145,689) scale(0.8943,1.0)" style="font-size:15.5px" >50tr</text>
<text transform="translate(715.019,689) scale(0.9369,1.0)" style="font-size:15.5px" >55tr</text>
<text transform="translate(776.967,689) scale(0.9313,1.0)" style="font-size:15.5px" >60tr</text>
<text transform="translate(837.349,689) scale(0.9546,1.0)" style="font-size:15.5px" >65tr</text>
<text transform="translate(900.147,689) scale(0.9471,1.0)" style="font-size:15.5px" >70tr</text>
<text transform="translate(961.950,689) scale(0.9432,1.0)" style="font-size:15.5px" >75tr</text>
<text transform="translate(337.779,46) scale(0.9983,1.0)" style="font-size:30px" stroke="#000" stroke-width="0.4">Chronos</text>
<text transform="translate(458.503,46) scale(1.0355,1.0)" style="font-size:30px" stroke="#000" stroke-width="0.4">du</text>
<text transform="translate(501.249,46) scale(1.0168,1.05)" style="font-size:30px" stroke="#000" stroke-width="0.4"> 5</text>
<path shape-rendering="geometricPrecision" vector-effect="non-scaling-stroke" stroke="#000" stroke-width="0.4" transform="translate(501.249,46) scale(1.0168,1.05) translate(0.000,0.000) scale(0.014648,-0.014648)" d="M735 0L555 0L555 1100C512 1060 455 1020 385 980C314 940 251 910 195 890L195 1060C296 1105 384 1160 459 1225C534 1290 587 1350 618 1409L735 1409Z"/>
<text transform="translate(543.434,46) scale(1.0018,1.0)" style="font-size:30px" stroke="#000" stroke-width="0.4">juillet</text>
<text transform="translate(619.659,46) scale(1.0247,1.05)" style="font-size:30px" stroke="#000" stroke-width="0.4">2023</text>
<text transform="translate(302.608,739.7) scale(0.9338,1.05)" style="font-size:20px" stroke="#000" stroke-width="0.3">Roni</text>
<text transform="translate(346.958,739.7) scale(0.9335,1.05)" style="font-size:20px" stroke="#000" stroke-width="0.3">Volka</text>
<text transform="translate(400.159,739.7) scale(1.1384,1.05)" style="font-size:20px" stroke="#000" stroke-width="0.3">-</text>
<text transform="translate(414.431,739.7) scale(0.9854,1.05)" style="font-size:20px" stroke="#000" stroke-width="0.3">BORIS</text>
<text transform="translate(483.555,739.7) scale(0.9696,1.05)" style="font-size:20px" stroke="#000" stroke-width="0.3">KASABOV</text>
<text transform="translate(581.259,739.7) scale(1.1384,1.05)" style="font-size:20px" stroke="#000" stroke-width="0.3">-</text>
<text transform="translate(595.057,739.7) scale(0.9934,1.05)" style="font-size:20px" stroke="#000" stroke-width="0.3"> / 0</text>
<path shape-rendering="geometricPrecision" vector-effect="non-scaling-stroke" stroke="#000" stroke-width="0.3" transform="translate(595.057,739.7) scale(0.9934,1.05) translate(0.000,0.000) scale(0.009766,-0.009766)" d="M735 0L555 0L555 1100C512 1060 455 1020 385 980C314 940 251 910 195 890L195 1060C296 1105 384 1160 459 1225C534 1290 587 1350 618 1409L735 1409Z"/>
<path shape-rendering="geometricPrecision" vector-effect="non-scaling-stroke" stroke="#000" stroke-width="0.3" transform="translate(595.057,739.7) scale(0.9934,1.05) translate(16.672,0.000) scale(0.009766,-0.009766)" d="M735 0L555 0L555 1100C512 1060 455 1020 385 980C314 940 251 910 195 890L195 1060C296 1105 384 1160 459 1225C534 1290 587 1350 618 1409L735 1409Z"/>
<text transform="translate(640.774,739.7) scale(0.9569,1.05)" style="font-size:20px" stroke="#000" stroke-width="0.3">DTM</text>
<text transform="translate(689.337,739.7) scale(0.9477,1.05)" style="font-size:20px" stroke="#000" stroke-width="0.3">elec</text>
</svg></div></body></html>
